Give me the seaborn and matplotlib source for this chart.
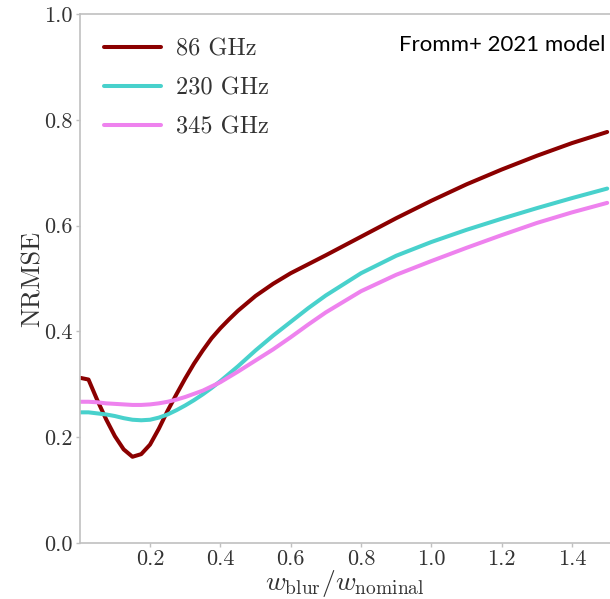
import numpy as np
import pandas as pd
import matplotlib
matplotlib.use("Agg")
import matplotlib.pyplot as plt
import seaborn as sns

# blur-width ratio sampled along the x axis
w_ratio = [0.003, 0.025, 0.05, 0.075, 0.1, 0.125, 0.15, 0.175, 0.2, 0.225,
           0.25, 0.275, 0.3, 0.325, 0.35, 0.375, 0.4, 0.425, 0.45, 0.5,
           0.55, 0.6, 0.65, 0.7, 0.8, 0.9, 1.0, 1.1, 1.2, 1.3, 1.4, 1.5]

# NRMSE per observing frequency
nrmse_86 = [0.312, 0.309, 0.270, 0.234, 0.202, 0.177, 0.163, 0.168, 0.186,
            0.216, 0.250, 0.281, 0.311, 0.339, 0.364, 0.387, 0.406, 0.423,
            0.439, 0.467, 0.490, 0.510, 0.527, 0.544, 0.579, 0.614, 0.647,
            0.678, 0.706, 0.732, 0.756, 0.777]
nrmse_230 = [0.247, 0.247, 0.245, 0.243, 0.240, 0.236, 0.233, 0.232, 0.233,
             0.237, 0.243, 0.251, 0.260, 0.270, 0.281, 0.293, 0.306, 0.320,
             0.334, 0.364, 0.392, 0.418, 0.444, 0.468, 0.510, 0.543, 0.569,
             0.592, 0.613, 0.633, 0.652, 0.670]
nrmse_345 = [0.267, 0.267, 0.266, 0.264, 0.263, 0.262, 0.261, 0.261, 0.262,
             0.264, 0.267, 0.271, 0.276, 0.282, 0.288, 0.296, 0.304, 0.314,
             0.324, 0.345, 0.366, 0.389, 0.413, 0.436, 0.476, 0.507, 0.533,
             0.558, 0.582, 0.605, 0.625, 0.643]

freq_labels = ["86 GHz", "230 GHz", "345 GHz"]
freq_colors = ["#8b0000", "#48d1cc", "#ee82ee"]

y_ticks = [0.0, 0.2, 0.4, 0.6, 0.8, 1.0]
x_ticks = [0.2, 0.4, 0.6, 0.8, 1.0, 1.2, 1.4]

df = pd.concat([
    pd.DataFrame({"w": w_ratio, "nrmse": vals, "freq": lab})
    for vals, lab in zip([nrmse_86, nrmse_230, nrmse_345], freq_labels)
], ignore_index=True)

sns.set_style("ticks")
plt.rcParams["font.family"] = "serif"
plt.rcParams["font.serif"] = ["cmr10", "DejaVu Serif"]
plt.rcParams["mathtext.fontset"] = "cm"
plt.rcParams["axes.formatter.use_mathtext"] = True

fig = plt.figure(figsize=(6.10, 5.99), dpi=100)
ax = fig.add_axes([79.7 / 610, 56 / 599, (610 - 79.7) / 610, 529 / 599])

sns.lineplot(data=df, x="w", y="nrmse", hue="freq", hue_order=freq_labels,
             palette=freq_colors, linewidth=2.9, ax=ax)

ax.set_xlim(0, 1.508)
ax.set_ylim(0, 1.0)
ax.set_xticks(x_ticks)
ax.set_yticks(y_ticks)
ax.set_xticklabels([f"{t:.1f}" for t in x_ticks])
ax.set_yticklabels([f"{t:.1f}" for t in y_ticks])

spine_col = "#c0c0c0"
for side in ["left", "bottom", "top"]:
    ax.spines[side].set_color(spine_col)
    ax.spines[side].set_linewidth(1.2)
ax.spines["right"].set_visible(False)
ax.tick_params(axis="both", colors=spine_col, labelcolor="#333333",
               labelsize=16, length=3, width=1, pad=2)

ax.set_xlabel(r"$w_{\rm blur}/w_{\rm nominal}$", fontsize=20,
              color="#333333", labelpad=-1)
ax.set_ylabel("NRMSE", fontsize=19, color="#333333", labelpad=0)

leg = ax.legend(loc="upper left", bbox_to_anchor=(0.0, 1.0), frameon=False,
                fontsize=17.5, handlelength=2.35, handletextpad=0.6,
                labelspacing=0.7, borderaxespad=0.6)
for line in leg.get_lines():
    line.set_linewidth(2.9)
for t in leg.get_texts():
    t.set_color("#333333")

fig.text(605 / 610, (599 - 51) / 599, "Fromm+ 2021 model",
         family="Lato", fontsize=16, ha="right", va="baseline", color="black")

fig.savefig("out.png", dpi=100)
